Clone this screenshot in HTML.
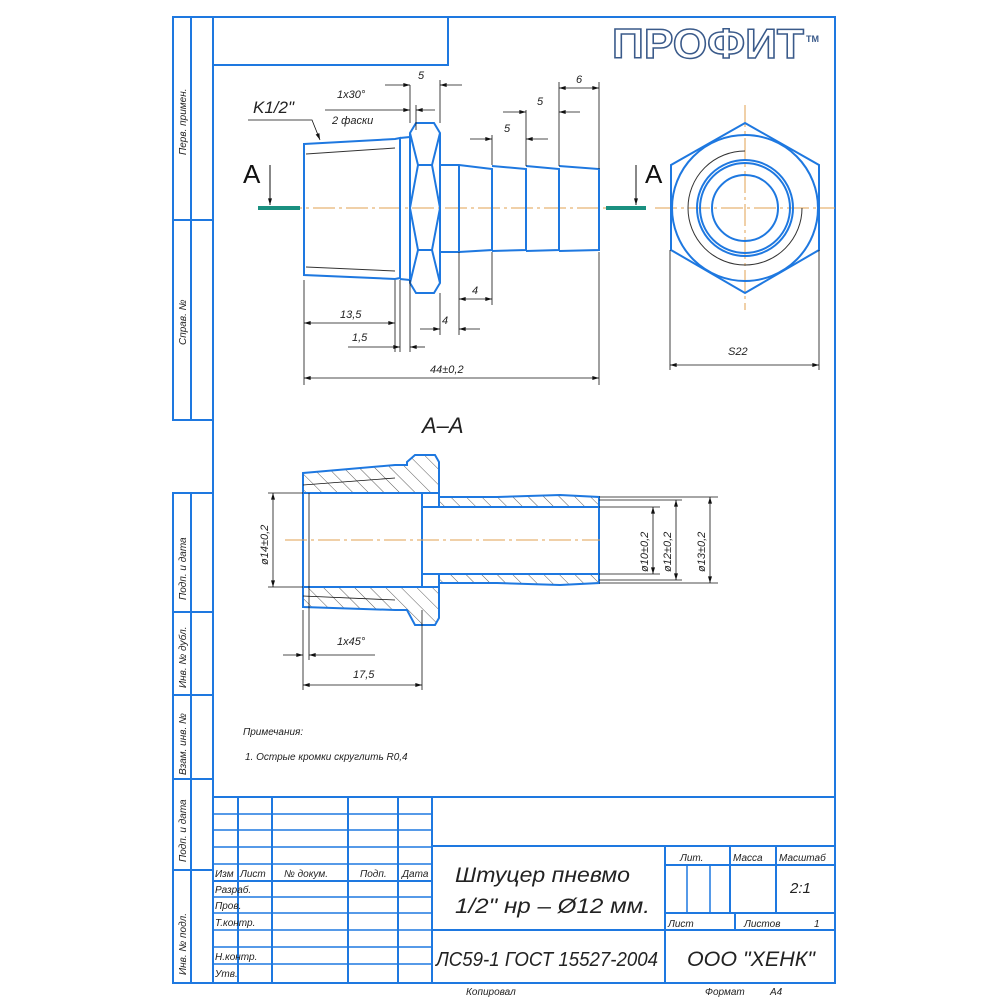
<!DOCTYPE html>
<html><head><meta charset="utf-8"><style>
html,body{margin:0;padding:0;background:#fff;}
svg{display:block}
text{font-family:"Liberation Sans",sans-serif;font-style:italic;fill:#222;}
</style></head><body>
<svg width="1000" height="1000" viewBox="0 0 1000 1000" xmlns="http://www.w3.org/2000/svg">
<defs>
<marker id="a" viewBox="0 0 10 6" refX="10" refY="3" markerWidth="10" markerHeight="4" orient="auto-start-reverse" markerUnits="userSpaceOnUse"><path d="M0,0 L10,3 L0,6z" fill="#111"/></marker>
<pattern id="h" width="11" height="11" patternUnits="userSpaceOnUse" patternTransform="rotate(-45)"><line x1="0" y1="0" x2="0" y2="11" stroke="#333" stroke-width="0.8"/></pattern>
</defs>
<g fill="none" stroke="#1e78e0" stroke-width="2">
<rect x="213" y="17" width="622" height="966"/>
<rect x="213" y="17" width="235" height="48"/>
<rect x="173" y="17" width="40" height="403"/>
<line x1="191" y1="17" x2="191" y2="420"/><line x1="173" y1="220" x2="213" y2="220"/>
<rect x="173" y="493" width="40" height="490"/>
<line x1="191" y1="493" x2="191" y2="983"/>
<line x1="173" y1="612" x2="213" y2="612"/><line x1="173" y1="695" x2="213" y2="695"/>
<line x1="173" y1="779" x2="213" y2="779"/><line x1="173" y1="870" x2="213" y2="870"/>
<line x1="213" y1="797" x2="835" y2="797"/>
<line x1="238" y1="797" x2="238" y2="983"/><line x1="272" y1="797" x2="272" y2="983"/>
<line x1="348" y1="797" x2="348" y2="983"/><line x1="398" y1="797" x2="398" y2="983"/>
<line x1="432" y1="797" x2="432" y2="983"/>
<line x1="432" y1="846" x2="835" y2="846"/><line x1="432" y1="930" x2="835" y2="930"/>
<line x1="665" y1="846" x2="665" y2="983"/>
<line x1="665" y1="865" x2="835" y2="865"/>
<line x1="730" y1="846" x2="730" y2="913"/><line x1="776" y1="846" x2="776" y2="913"/>
<line x1="665" y1="913" x2="835" y2="913"/><line x1="735" y1="913" x2="735" y2="930"/>
<line x1="213" y1="881" x2="432" y2="881"/>
</g>
<g stroke="#1e78e0" stroke-width="1.5">
<line x1="213" y1="814" x2="432" y2="814"/><line x1="213" y1="830" x2="432" y2="830"/>
<line x1="213" y1="847" x2="432" y2="847"/><line x1="213" y1="864" x2="432" y2="864"/>
<line x1="213" y1="897" x2="432" y2="897"/><line x1="213" y1="913" x2="432" y2="913"/>
<line x1="213" y1="930" x2="432" y2="930"/><line x1="213" y1="947" x2="432" y2="947"/>
<line x1="213" y1="964" x2="432" y2="964"/>
<line x1="687" y1="865" x2="687" y2="913"/><line x1="710" y1="865" x2="710" y2="913"/>
</g>
<g font-size="10">
<text x="215" y="877">Изм</text><text x="240" y="877">Лист</text><text x="284" y="877">№ докум.</text><text x="360" y="877">Подп.</text><text x="402" y="877">Дата</text>
<text x="215" y="893">Разраб.</text><text x="215" y="909">Пров.</text><text x="215" y="926">Т.контр.</text>
<text x="215" y="960">Н.контр.</text><text x="215" y="977">Утв.</text>
<text x="680" y="861">Лит.</text><text x="733" y="861">Масса</text><text x="779" y="861">Масштаб</text>
<text x="668" y="927">Лист</text><text x="744" y="927">Листов</text><text x="814" y="927">1</text>
<text x="466" y="995">Копировал</text><text x="705" y="995">Формат</text><text x="770" y="995">A4</text>
</g>
<text x="790" y="893" font-size="15">2:1</text>
<text x="455" y="882" font-size="21" textLength="175" lengthAdjust="spacingAndGlyphs">Штуцер пневмо</text>
<text x="455" y="913" font-size="21" textLength="195" lengthAdjust="spacingAndGlyphs">1/2" нр – Ø12 мм.</text>
<text x="436" y="966" font-size="20" textLength="222" lengthAdjust="spacingAndGlyphs">ЛС59-1 ГОСТ 15527-2004</text>
<text x="687" y="966" font-size="21" textLength="128" lengthAdjust="spacingAndGlyphs">ООО "ХЕНК"</text>
<g font-size="10">
<text transform="translate(186,155) rotate(-90)">Перв. примен.</text>
<text transform="translate(186,345) rotate(-90)">Справ. №</text>
<text transform="translate(186,600) rotate(-90)">Подп. и дата</text>
<text transform="translate(186,688) rotate(-90)">Инв. № дубл.</text>
<text transform="translate(186,775) rotate(-90)">Взам. инв. №</text>
<text transform="translate(186,862) rotate(-90)">Подп. и дата</text>
<text transform="translate(186,975) rotate(-90)">Инв. № подл.</text>
</g>
<text x="612" y="58" font-size="42" font-weight="bold" style="font-style:normal;fill:#fff;stroke:#3a5a8a;stroke-width:1.5" textLength="192" lengthAdjust="spacingAndGlyphs">ПРОФИТ</text>
<text x="806" y="42" font-size="9" font-weight="bold" style="font-style:normal;fill:#3a5a8a">TM</text>
<g stroke="#e0a050" stroke-width="1" stroke-dasharray="22,4,3,4" fill="none">
<line x1="280" y1="208" x2="610" y2="208"/>
<line x1="655" y1="208" x2="835" y2="208"/>
<line x1="745" y1="105" x2="745" y2="310"/>
</g>
<g stroke="#1a9080" stroke-width="4"><line x1="258" y1="208" x2="300" y2="208"/><line x1="606" y1="208" x2="646" y2="208"/></g>
<text x="243" y="183" font-size="26" style="font-style:normal;fill:#111">A</text>
<text x="645" y="183" font-size="26" style="font-style:normal;fill:#111">A</text>
<g stroke="#111" stroke-width="1" fill="none">
<line x1="270" y1="165" x2="270" y2="205" marker-end="url(#a)"/>
<line x1="636" y1="165" x2="636" y2="205" marker-end="url(#a)"/>
</g>
<g fill="none" stroke="#1e78e0" stroke-width="2">
<path d="M304,144 L395,139 L400,138 L400,278 L395,279 L304,275 Z"/>
<path d="M400,138 L410,137 L410,280 L400,279"/>
<path d="M416,123 L434,123 L440,133 L440,283 L434,293 L416,293 L410,283 L410,133 Z"/>
<path d="M410,133 L418,165 L410,208 L418,250 L410,283 M440,133 L432,165 L440,208 L432,250 L440,283 M418,165 L432,165 M418,250 L432,250"/>
<path d="M440,165 L459,165 L492,169 L492,250 L459,252 L440,252 Z"/>
<line x1="459" y1="165" x2="459" y2="252"/>
<path d="M492,166 L526,169 L526,250 L492,251"/>
<path d="M526,166 L559,169 L559,250 L526,251"/>
<path d="M559,166 L599,169 L599,250 L559,251"/>
</g>
<g stroke="#333" stroke-width="1"><line x1="306" y1="154" x2="395" y2="148"/><line x1="306" y1="267" x2="395" y2="271"/></g>
<g stroke="#111" stroke-width="0.8" fill="none">
<line x1="304" y1="280" x2="304" y2="385"/><line x1="599" y1="252" x2="599" y2="385"/>
<line x1="304" y1="378" x2="599" y2="378" marker-start="url(#a)" marker-end="url(#a)"/>
<line x1="395" y1="280" x2="395" y2="352"/><line x1="400" y1="280" x2="400" y2="352"/><line x1="410" y1="280" x2="410" y2="352"/>
<line x1="304" y1="323" x2="395" y2="323" marker-start="url(#a)" marker-end="url(#a)"/>
<line x1="348" y1="347" x2="400" y2="347" marker-end="url(#a)"/><line x1="425" y1="347" x2="410" y2="347" marker-end="url(#a)"/>
<line x1="440" y1="293" x2="440" y2="335"/><line x1="459" y1="252" x2="459" y2="335"/><line x1="492" y1="252" x2="492" y2="305"/>
<line x1="420" y1="329" x2="440" y2="329" marker-end="url(#a)"/><line x1="480" y1="329" x2="459" y2="329" marker-end="url(#a)"/>
<line x1="459" y1="299" x2="492" y2="299" marker-start="url(#a)" marker-end="url(#a)"/>
<line x1="410" y1="85" x2="410" y2="123"/><line x1="440" y1="80" x2="440" y2="123"/>
<line x1="385" y1="85" x2="410" y2="85" marker-end="url(#a)"/><line x1="462" y1="85" x2="440" y2="85" marker-end="url(#a)"/>
<line x1="325" y1="110" x2="410" y2="110" marker-end="url(#a)"/><line x1="435" y1="110" x2="416" y2="110" marker-end="url(#a)"/>
<line x1="416" y1="105" x2="416" y2="130"/>
<line x1="492" y1="135" x2="492" y2="165"/><line x1="526" y1="110" x2="526" y2="166"/><line x1="559" y1="82" x2="559" y2="166"/><line x1="599" y1="82" x2="599" y2="169"/>
<line x1="470" y1="139" x2="492" y2="139" marker-end="url(#a)"/><line x1="548" y1="139" x2="526" y2="139" marker-end="url(#a)"/>
<line x1="503" y1="112" x2="526" y2="112" marker-end="url(#a)"/><line x1="580" y1="112" x2="559" y2="112" marker-end="url(#a)"/>
<line x1="559" y1="88" x2="599" y2="88" marker-start="url(#a)" marker-end="url(#a)"/>
<path d="M248,120 L312,120 L320,140" marker-end="url(#a)"/>
</g>
<g font-size="11">
<text x="418" y="79">5</text><text x="337" y="98">1x30°</text><text x="332" y="124">2 фаски</text>
<text x="576" y="83">6</text><text x="537" y="105">5</text><text x="504" y="132">5</text>
<text x="340" y="318">13,5</text><text x="352" y="341">1,5</text><text x="442" y="324">4</text><text x="472" y="294">4</text>
<text x="430" y="373">44±0,2</text>
<text x="728" y="355">S22</text>
</g>
<text x="253" y="113" font-size="17">K1/2"</text>
<g fill="none" stroke="#1e78e0" stroke-width="2">
<polygon points="745,123 819,165 819,250 745,293 671,250 671,165"/>
<circle cx="745" cy="208" r="73"/>
<circle cx="745" cy="208" r="48"/><circle cx="745" cy="208" r="45"/>
<circle cx="745" cy="208" r="33"/>
</g>
<path d="M745,151 A57,57 0 1,0 802,208" fill="none" stroke="#333" stroke-width="1"/>
<g stroke="#111" stroke-width="0.8" fill="none">
<line x1="670" y1="250" x2="670" y2="370"/><line x1="819" y1="250" x2="819" y2="370"/>
<line x1="670" y1="365" x2="819" y2="365" marker-start="url(#a)" marker-end="url(#a)"/>
</g>
<text x="422" y="433" font-size="22">A–A</text>
<g stroke="#1e78e0" stroke-width="2" fill="url(#h)">
<path d="M303,473 L395,465 L407,465 L407,462 L415,455 L435,455 L439,462 L439,497 L497,497 L560,495 L599,497 L599,507 L439,507 L439,493 L303,493 Z"/>
<path d="M303,607 L395,610 L407,610 L415,625 L435,625 L439,618 L439,583 L497,583 L560,585 L599,583 L599,574 L439,574 L439,587 L303,587 Z"/>
</g>
<g fill="#fff" stroke="#1e78e0" stroke-width="2">
<rect x="303" y="493" width="119" height="94"/>
<rect x="422" y="507" width="177" height="67"/>
</g>
<line x1="422" y1="493" x2="422" y2="587" stroke="#1e78e0" stroke-width="2"/>
<g stroke="#e0a050" stroke-width="1" stroke-dasharray="22,4,3,4"><line x1="285" y1="540" x2="600" y2="540"/></g>
<g stroke="#111" stroke-width="0.8" fill="none">
<line x1="303" y1="485" x2="395" y2="478"/><line x1="303" y1="596" x2="395" y2="600"/>
<line x1="309" y1="493" x2="309" y2="660"/>
<line x1="268" y1="493" x2="303" y2="493"/><line x1="268" y1="587" x2="303" y2="587"/>
<line x1="273" y1="493" x2="273" y2="587" marker-start="url(#a)" marker-end="url(#a)"/>
<line x1="599" y1="497" x2="718" y2="497"/><line x1="599" y1="507" x2="660" y2="507"/><line x1="599" y1="500" x2="682" y2="500"/>
<line x1="599" y1="583" x2="718" y2="583"/><line x1="599" y1="574" x2="660" y2="574"/><line x1="599" y1="580" x2="682" y2="580"/>
<line x1="653" y1="507" x2="653" y2="574" marker-start="url(#a)" marker-end="url(#a)"/>
<line x1="676" y1="500" x2="676" y2="580" marker-start="url(#a)" marker-end="url(#a)"/>
<line x1="710" y1="497" x2="710" y2="583" marker-start="url(#a)" marker-end="url(#a)"/>
<line x1="303" y1="610" x2="303" y2="690"/><line x1="422" y1="610" x2="422" y2="690"/>
<line x1="283" y1="655" x2="303" y2="655" marker-end="url(#a)"/><line x1="375" y1="655" x2="309" y2="655" marker-end="url(#a)"/>
<line x1="303" y1="685" x2="422" y2="685" marker-start="url(#a)" marker-end="url(#a)"/>
</g>
<g font-size="11">
<text transform="translate(268,565) rotate(-90)">ø14±0,2</text>
<text transform="translate(648,572) rotate(-90)">ø10±0,2</text>
<text transform="translate(671,572) rotate(-90)">ø12±0,2</text>
<text transform="translate(705,572) rotate(-90)">ø13±0,2</text>
<text x="337" y="645">1x45°</text><text x="353" y="678">17,5</text>
<text x="243" y="735" font-size="10">Примечания:</text>
<text x="245" y="760" font-size="10">1. Острые кромки скруглить R0,4</text>
</g>
</svg>
</body></html>
